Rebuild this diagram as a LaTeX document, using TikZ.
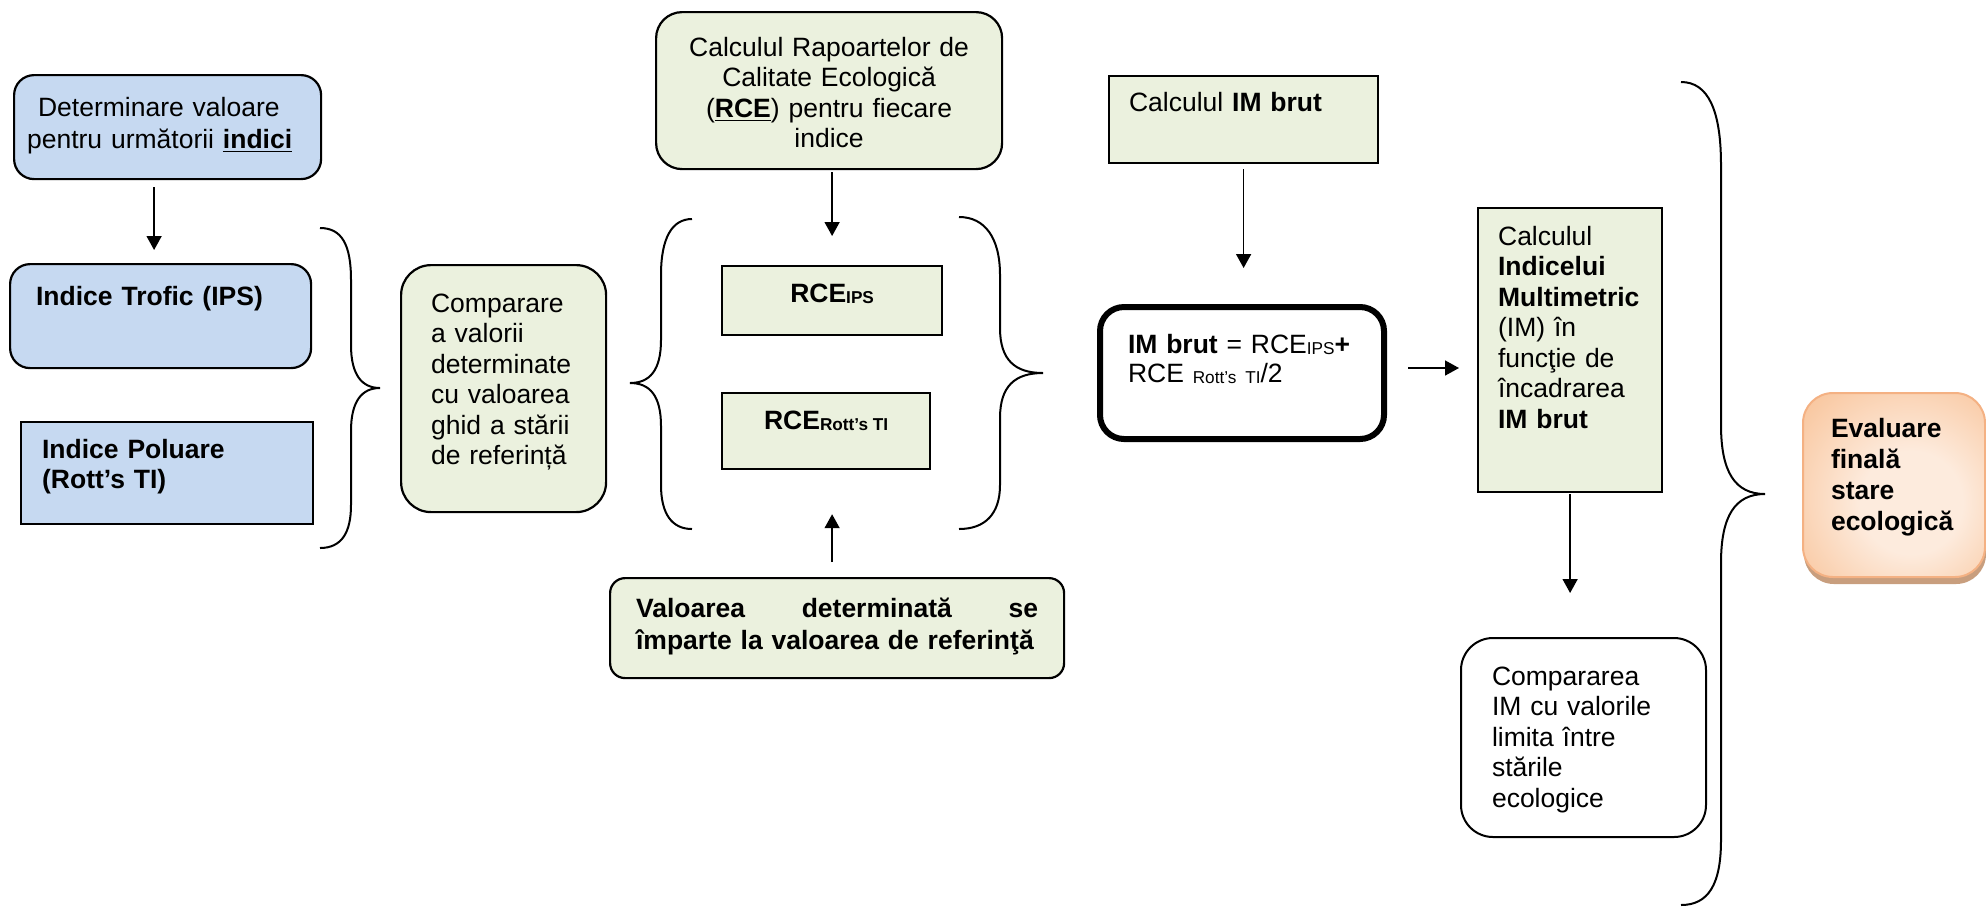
\documentclass[tikz,border=0pt]{standalone}
\usepackage{fontspec}
\setmainfont{Liberation Sans}
\usetikzlibrary{arrows.meta,shadows}
\hyphenpenalty=10000

\definecolor{boxblue}{HTML}{C6D9F1}
\definecolor{boxgreen}{HTML}{EBF1DE}
\definecolor{evalorange}{HTML}{F7B886}
\definecolor{evallight}{HTML}{FDEBDD}
\definecolor{evalborder}{HTML}{F4B183}
\definecolor{evalshadow}{HTML}{C89E7E}

\pgfdeclareradialshading{evalshade}{\pgfpoint{6bp}{-6bp}}{color(0bp)=(evallight); color(14bp)=(evallight); color(46bp)=(evalorange); color(70bp)=(evalorange)}

\newcommand{\smallsub}[1]{\raisebox{-0.7pt}{\fontsize{8.6pt}{10pt}\selectfont #1}}

\tikzset{
  flowbox/.style={draw, line width=1.1pt, inner ysep=0pt, anchor=north west, align=left,
    font=\fontsize{13.25pt}{15.25pt}\selectfont},
  bluebox/.style={flowbox, fill=boxblue},
  greenbox/.style={flowbox, fill=boxgreen},
  arr/.style={-{Triangle[length=7pt,width=7.5pt]}, line width=0.8pt},
  curly/.style={line width=1pt}
}

\begin{document}
\begin{tikzpicture}[x=0.5pt, y=-0.5pt]
  \useasboundingbox (0,0) rectangle (1986,907);

  % Indici (albastru)
  \node[bluebox, rounded corners=10pt, inner xsep=6.5pt, text width=140.5pt, text height=20.5pt, text depth=31.5pt,
        font=\fontsize{13.25pt}{16pt}\selectfont] (det) at (13,74)
        {\hspace*{5.5pt}Determinare valoare\\ pentru următorii \underline{\textbf{indici}}};
  \node[bluebox, rounded corners=10pt, inner xsep=13pt, text width=124.5pt, text height=20.5pt, text depth=31.5pt] (trofic) at (9,263)
        {\textbf{Indice Trofic (IPS)}};
  \node[bluebox, inner xsep=10.5pt, text width=125pt, text height=18pt, text depth=33pt] (polu) at (20,421)
        {\textbf{Indice Poluare}\\ \textbf{(Rott’s TI)}};
  \draw[arr, shorten <=3.5pt, shorten >=6.5pt] ([xshift=-6.75pt]det.south) -- ([xshift=-6.75pt]det.south |- trofic.north);
  \draw[curly] (320,228) .. controls (342,228) and (351,245) .. (351,280) -- (351,345)
        .. controls (351,375) and (362,388) .. (380,388) .. controls (362,388) and (351,401) .. (351,431)
        -- (351,505) .. controls (351,532) and (342,548) .. (320,548);

  % RCE (verde)
  \node[greenbox, rounded corners=15pt, inner xsep=15pt, text width=72.5pt, text height=23.5pt, text depth=100pt] (compv) at (400,264)
        {Comparare\\ a valorii\\ determinate\\ cu valoarea\\ ghid a stării\\ de referință};
  \node[greenbox, rounded corners=13pt, align=center, inner xsep=5pt, text width=163pt, text height=22pt, text depth=56.5pt] (rap) at (655,11)
        {Calculul Rapoartelor de\\ Calitate Ecologică\\ (\underline{\textbf{RCE}}) pentru fiecare\\ indice};
  \node[greenbox, inner xsep=0pt, minimum width=110pt, text height=18pt, text depth=16.5pt] (ips) at (721,265)
        {\textbf{RCE\smallsub{IPS}}};
  \node[greenbox, inner xsep=0pt, minimum width=104pt, text height=18pt, text depth=20pt] (rott) at (721,392)
        {\textbf{RCE\smallsub{Rott’s TI}}};
  \node[greenbox, rounded corners=7.5pt, inner xsep=13pt, text width=201pt, text height=19.5pt, text depth=30.5pt,
        font=\fontsize{13.25pt}{16pt}\selectfont\bfseries] (val) at (609,577)
        {Valoarea \hfill determinată \hfill se\\ împarte la valoarea de referinţă};
  \draw[arr, shorten <=1pt, shorten >=14.5pt] (rap.south -| ips.north) -- (ips.north);
  \draw[arr, shorten <=7.5pt, shorten >=22pt] (val.north -| ips.south) -- (ips.south |- rott.south);
  \draw[curly] (692,219) .. controls (672,219) and (661,238) .. (661,275) -- (661,340)
        .. controls (661,370) and (650,383) .. (630,383) .. controls (650,383) and (661,396) .. (661,426)
        -- (661,485) .. controls (661,514) and (672,529) .. (692,529);
  \draw[curly] (959,217) .. controls (985,217) and (1000,238) .. (1000,275) -- (1000,328)
        .. controls (1000,360) and (1015,373) .. (1043,373) .. controls (1015,373) and (1000,386) .. (1000,418)
        -- (1000,485) .. controls (1000,514) and (985,529) .. (959,529);

  % IM brut
  \node[greenbox, inner xsep=10pt, text width=114.5pt, text height=17.5pt, text depth=26pt] (calcim) at (1108,75)
        {Calculul \textbf{IM brut}};
  \node[flowbox, fill=white, line width=3pt, rounded corners=12pt, inner xsep=14pt, text width=114pt, text height=23pt, text depth=43pt,
        font=\fontsize{13.25pt}{14.5pt}\selectfont] (imbrut) at (1097,304)
        {\textbf{IM brut} = RCE\smallsub{IPS}\textbf{+}\\ RCE \smallsub{Rott’s TI}/2};
  \node[greenbox, inner xsep=10pt, text width=72pt, text height=18.5pt, text depth=123.5pt] (ind) at (1477,207)
        {Calculul\\ \textbf{Indicelui}\\ \textbf{Multimetric}\\ (IM) în\\ funcţie de\\ încadrarea\\ \textbf{IM brut}};
  \node[flowbox, fill=white, line width=1pt, rounded corners=16pt, inner xsep=15.5pt, text width=91.5pt, text height=23.5pt, text depth=76pt] (comp) at (1460,637)
        {Compararea\\ IM cu valorile\\ limita între\\ stările\\ ecologice};
  \draw[arr, shorten <=2.5pt, shorten >=18pt] (calcim.south) -- (calcim.south |- imbrut.north);
  \draw[arr, shorten <=10.5pt, shorten >=9pt] ([yshift=2.5pt]imbrut.east) -- ([yshift=2.5pt]imbrut.east -| ind.west);
  \draw[arr, shorten <=0.5pt, shorten >=22pt] (ind.south) -- (ind.south |- comp.north);
  \draw[curly] (1681,82) .. controls (1708,82) and (1721,110) .. (1721,165) -- (1721,425)
        .. controls (1721,472) and (1735,494) .. (1765,494) .. controls (1735,494) and (1721,516) .. (1721,563)
        -- (1721,840) .. controls (1721,885) and (1708,905) .. (1681,905);

  % Evaluare finala
  \node[flowbox, draw=evalborder, line width=1pt, rounded corners=15pt, shade, shading=evalshade,
        drop shadow={shadow xshift=0.5pt, shadow yshift=-3.5pt, fill=evalshadow, opacity=1},
        inner xsep=14pt, text width=63pt, text height=22pt, text depth=70pt,
        font=\fontsize{13.25pt}{15.5pt}\selectfont] (evalfin) at (1802,392)
        {\textbf{Evaluare}\\ \textbf{finală}\\ \textbf{stare}\\ \textbf{ecologică}};
\end{tikzpicture}
\end{document}
